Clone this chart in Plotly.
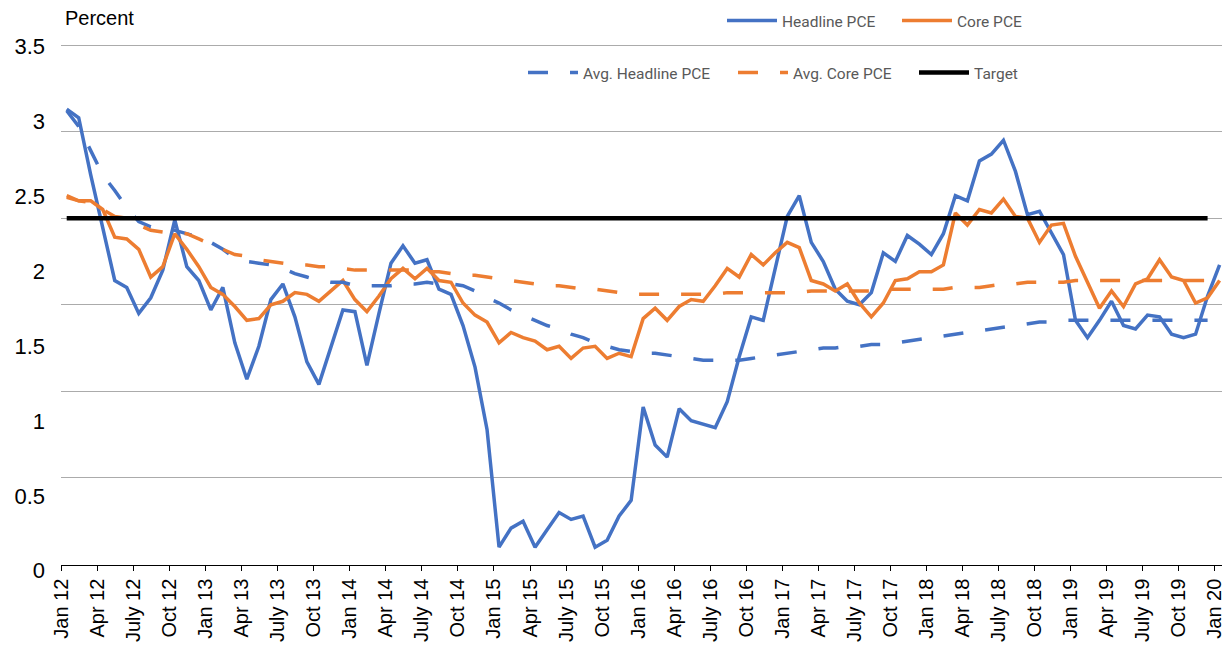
import plotly.graph_objects as go

# ---------------- data (monthly, Jan 2012 .. Jan 2020) ----------------
headline = [2.63, 2.58, 2.25, 1.95, 1.64, 1.60, 1.45, 1.54, 1.70, 1.99, 1.72, 1.64,
            1.47, 1.60, 1.28, 1.07, 1.26, 1.53, 1.62, 1.43, 1.17, 1.04, 1.25, 1.47,
            1.46, 1.15, 1.45, 1.74, 1.84, 1.74, 1.76, 1.59, 1.56, 1.38, 1.14, 0.78,
            0.10, 0.21, 0.25, 0.10, 0.20, 0.30, 0.26, 0.28, 0.10, 0.14, 0.28, 0.37,
            0.91, 0.69, 0.62, 0.90, 0.83, 0.81, 0.79, 0.94, 1.20, 1.43, 1.41, 1.71,
            2.01, 2.13, 1.86, 1.75, 1.59, 1.52, 1.50, 1.57, 1.80, 1.75, 1.90, 1.85,
            1.79, 1.91, 2.13, 2.10, 2.33, 2.37, 2.45, 2.27, 2.02, 2.04, 1.91, 1.79,
            1.41, 1.31, 1.41, 1.52, 1.38, 1.36, 1.44, 1.43, 1.33, 1.31, 1.33, 1.55,
            1.73]

core = [2.12, 2.10, 2.10, 2.05, 1.89, 1.88, 1.82, 1.66, 1.72, 1.91, 1.82, 1.72,
        1.60, 1.56, 1.49, 1.41, 1.42, 1.50, 1.52, 1.57, 1.56, 1.52, 1.58, 1.64,
        1.53, 1.46, 1.55, 1.65, 1.71, 1.65, 1.71, 1.64, 1.63, 1.51, 1.44, 1.40,
        1.28, 1.34, 1.31, 1.29, 1.24, 1.26, 1.19, 1.25, 1.26, 1.19, 1.22, 1.20,
        1.42, 1.48, 1.41, 1.49, 1.53, 1.52, 1.61, 1.71, 1.66, 1.79, 1.73, 1.80,
        1.86, 1.83, 1.64, 1.62, 1.58, 1.62, 1.51, 1.43, 1.51, 1.64, 1.65, 1.69,
        1.69, 1.73, 2.03, 1.96, 2.05, 2.03, 2.11, 2.01, 2.00, 1.86, 1.96, 1.97,
        1.78, 1.63, 1.48, 1.58, 1.49, 1.62, 1.65, 1.76, 1.66, 1.64, 1.51, 1.54,
        1.64]

avg_headline = [2.62, 2.53, 2.39, 2.25, 2.16, 2.06, 1.98, 1.95, 1.95, 1.93, 1.91, 1.89,
                1.86, 1.82, 1.77, 1.75, 1.74, 1.73, 1.71, 1.68, 1.66, 1.64, 1.63, 1.63,
                1.61, 1.61, 1.61, 1.61, 1.62, 1.62, 1.63, 1.62, 1.62, 1.61, 1.58, 1.54,
                1.51, 1.47, 1.44, 1.41, 1.38, 1.36, 1.33, 1.31, 1.28, 1.26, 1.24, 1.23,
                1.22, 1.22, 1.21, 1.20, 1.19, 1.18, 1.18, 1.18, 1.18, 1.19, 1.20, 1.21,
                1.22, 1.23, 1.24, 1.25, 1.25, 1.26, 1.26, 1.27, 1.27, 1.28, 1.29, 1.30,
                1.31, 1.32, 1.33, 1.34, 1.35, 1.36, 1.37, 1.38, 1.39, 1.40, 1.40, 1.41,
                1.41, 1.41, 1.41, 1.41, 1.41, 1.41, 1.41, 1.41, 1.41, 1.41, 1.41, 1.41]

avg_core = [2.13, 2.10, 2.09, 2.05, 2.01, 2.00, 1.96, 1.93, 1.92, 1.92, 1.91, 1.88,
            1.85, 1.82, 1.79, 1.78, 1.76, 1.75, 1.74, 1.73, 1.73, 1.72, 1.72, 1.71,
            1.70, 1.70, 1.70, 1.70, 1.70, 1.70, 1.69, 1.69, 1.68, 1.67, 1.67, 1.66,
            1.65, 1.64, 1.63, 1.62, 1.61, 1.61, 1.60, 1.59, 1.59, 1.58, 1.57, 1.56,
            1.56, 1.56, 1.56, 1.56, 1.56, 1.56, 1.56, 1.57, 1.57, 1.57, 1.57, 1.57,
            1.57, 1.57, 1.58, 1.58, 1.58, 1.58, 1.58, 1.58, 1.59, 1.59, 1.59, 1.59,
            1.59, 1.59, 1.60, 1.60, 1.60, 1.61, 1.62, 1.62, 1.63, 1.63, 1.63, 1.63,
            1.64, 1.64, 1.64, 1.64, 1.64, 1.64, 1.64, 1.64, 1.64, 1.64, 1.64, 1.64]

target = [2.0] * 96

tick_labels = ["Jan 12", "Apr 12", "July 12", "Oct 12",
               "Jan 13", "Apr 13", "July 13", "Oct 13",
               "Jan 14", "Apr 14", "July 14", "Oct 14",
               "Jan 15", "Apr 15", "July 15", "Oct 15",
               "Jan 16", "Apr 16", "July 16", "Oct 16",
               "Jan 17", "Apr 17", "July 17", "Oct 17",
               "Jan 18", "Apr 18", "July 18", "Oct 18",
               "Jan 19", "Apr 19", "July 19", "Oct 19",
               "Jan 20"]

y_label_vals = [0, 0.5, 1, 1.5, 2, 2.5, 3, 3.5]

# ---------------- styling ----------------
BLUE = "#4472C4"
ORANGE = "#ED7D31"
BLACK = "#000000"
ARIAL = "Liberation Sans, Arial, sans-serif"
LEGEND_FONT = "Roboto, Arial Narrow, sans-serif"
DASH = "20px,22px"
TICK_SHIFT = 0.42   # category tick marks sit slightly left of the data points

# ---------------- page geometry (window pixels) ----------------
OFF = 8                     # default body margin of the html page
W, H = 1230 - OFF, 647 - OFF
PLOT_LEFT, PLOT_RIGHT = 61, 1225
GRID0, GRID3 = 564.5, 45.0  # pixel rows of the 0 and 3.0 gridlines
LAB0, LAB35 = 570.7, 46.7   # pixel rows of the "0" and "3.5" labels
PAPER_TOP, PAPER_BOTTOM = 41.0, 573.0

L = PLOT_LEFT - OFF
R = W - (PLOT_RIGHT - OFF)
T = PAPER_TOP - OFF
B = H - (PAPER_BOTTOM - OFF)
plot_w = W - L - R
plot_h = H - T - B

s_data = (GRID0 - GRID3) / 3.0
s_lab = (LAB0 - LAB35) / 3.5
data_dom0 = (PAPER_BOTTOM - GRID0) / plot_h
data_range = [0, (GRID0 - PAPER_TOP) / s_data]
lab_range = [-(PAPER_BOTTOM - LAB0) / s_lab, (LAB0 - PAPER_TOP) / s_lab]


def px(xw):
    return (xw - OFF - L) / plot_w


def py(yw):
    return 1 - (yw - PAPER_TOP) / plot_h


months = list(range(len(headline)))
avg_months = months[:len(avg_headline)]
tick_pos = [3 * k - TICK_SHIFT for k in range(len(tick_labels))]

fig = go.Figure()
fig.add_trace(go.Scatter(x=months, y=headline, mode="lines", name="Headline PCE",
                         line=dict(color=BLUE, width=3.5), legend="legend"))
fig.add_trace(go.Scatter(x=months, y=core, mode="lines", name="Core PCE",
                         line=dict(color=ORANGE, width=3.5), legend="legend2"))
fig.add_trace(go.Scatter(x=avg_months, y=avg_headline, mode="lines", name="Avg. Headline PCE",
                         line=dict(color=BLUE, width=3.5, dash=DASH), legend="legend3"))
fig.add_trace(go.Scatter(x=avg_months, y=avg_core, mode="lines", name="Avg. Core PCE",
                         line=dict(color=ORANGE, width=3.5, dash=DASH), legend="legend4"))
fig.add_trace(go.Scatter(x=avg_months, y=target, mode="lines", name="Target",
                         line=dict(color=BLACK, width=4.5), legend="legend5"))
# empty trace that only activates the labelled y axis
fig.add_trace(go.Scatter(x=[None], y=[None], yaxis="y2", showlegend=False,
                         hoverinfo="skip", mode="lines"))


def leg(sample_x, row_y):
    return dict(
        orientation="h", xanchor="left", yanchor="middle",
        x=px(sample_x - 5), y=py(row_y),
        font=dict(family=LEGEND_FONT, size=15.5, color="#595959"),
        bgcolor="rgba(0,0,0,0)", borderwidth=0, itemwidth=50,
    )


fig.update_layout(
    width=W, height=H,
    margin=dict(l=L, r=R, t=T, b=B, pad=0, autoexpand=False),
    paper_bgcolor="white", plot_bgcolor="rgba(0,0,0,0)",
    font=dict(family=ARIAL, color="black"),
    xaxis=dict(
        range=[-0.475, 96.45], anchor="y",
        tickmode="array", tickvals=tick_pos, ticktext=tick_labels,
        tickangle=-90, tickfont=dict(family=ARIAL, size=20, color="black"),
        ticks="outside", ticklen=5, tickwidth=1.3, tickcolor="black",
        showline=True, linecolor="black", linewidth=1.3,
        showgrid=False, zeroline=False, automargin=False,
    ),
    yaxis=dict(
        domain=[data_dom0, 1], range=data_range, dtick=0.5, tick0=0,
        showgrid=True, gridcolor="#ABABAB", gridwidth=1.3,
        showticklabels=False, ticks="", zeroline=False, showline=False,
        automargin=False,
    ),
    yaxis2=dict(
        domain=[0, 1], anchor="free", position=0, side="left",
        range=lab_range,
        tickmode="array", tickvals=y_label_vals,
        ticktext=[f"{v:g}" for v in y_label_vals],
        tickfont=dict(family=ARIAL, size=22, color="black"),
        showgrid=False, zeroline=False, showline=False, ticks="",
        ticklabelstandoff=16, automargin=False,
    ),
    legend=leg(727, 21),
    legend2=leg(902, 21),
    legend3=leg(528, 73),
    legend4=leg(738, 73),
    legend5=leg(919, 73),
    annotations=[dict(
        text="Percent", xref="paper", yref="paper",
        x=px(63), y=py(18),
        xanchor="left", yanchor="middle", showarrow=False,
        font=dict(family=ARIAL, size=20, color="black"),
    )],
    showlegend=True,
)

fig.write_html("out.html")
